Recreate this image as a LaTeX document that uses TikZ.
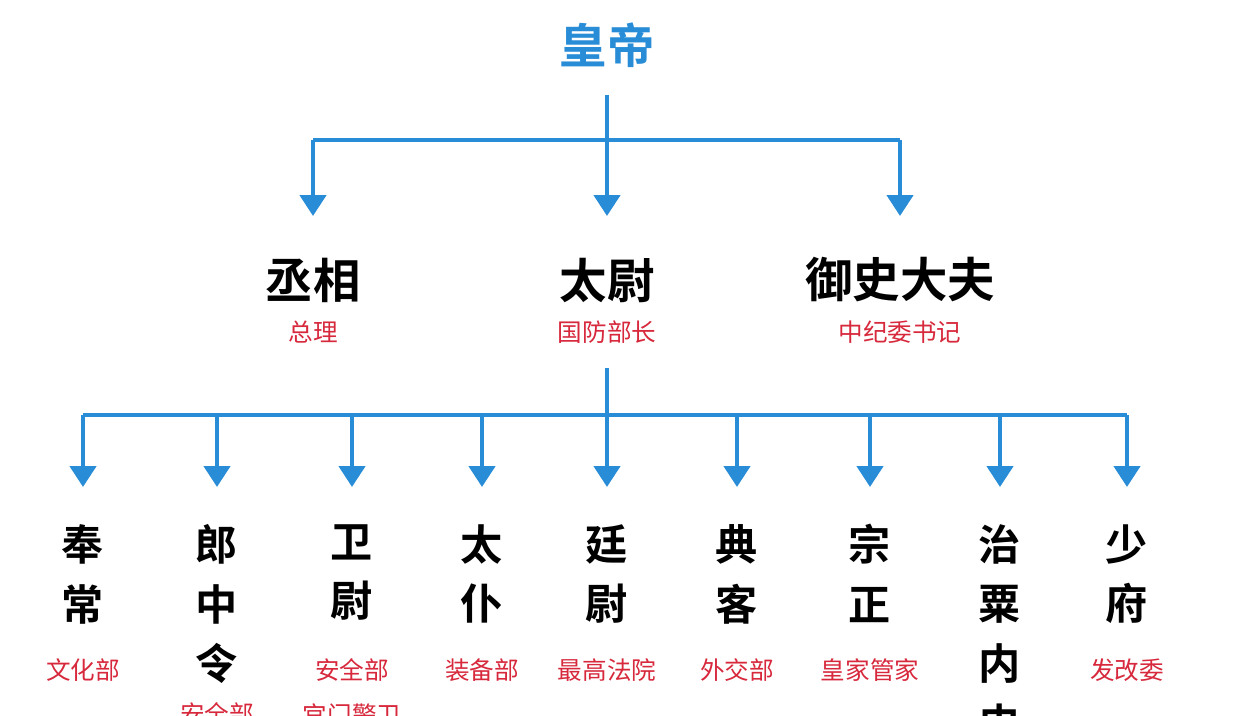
\documentclass[tikz,border=0pt]{standalone}
\usepackage{fontspec}
\newfontfamily\cjk{Noto Sans CJK SC}
\newfontfamily\cjkb{Noto Sans CJK SC Bold}
\usetikzlibrary{arrows.meta,positioning}
\definecolor{lineblue}{RGB}{40,140,215}
\definecolor{notered}{RGB}{215,40,60}
\tikzset{
  title/.style={font=\cjkb\fontsize{27}{30}\selectfont, text=black, inner sep=0pt},
  office/.style={font=\cjkb\fontsize{24}{34}\selectfont, text=black, align=center, inner sep=0pt},
  note/.style={font=\cjk\fontsize{14}{16}\selectfont, text=notered, inner sep=0pt},
  bar/.style={draw=lineblue, line width=2.6pt},
  arr/.style={bar, -{Triangle[width=0.52cm,length=0.42cm]}},
}
\begin{document}
\begin{tikzpicture}[x=0.02cm,y=-0.02cm]
\useasboundingbox (0,0) rectangle (1238,716);
\clip (0,0) rectangle (1238,716);
\fill[white] (0,0) rectangle (1238,716);

\node[title, text=lineblue] (emperor) at (607,45) {皇帝};

\coordinate (s1) at (607,95);
\coordinate (j1) at (607,140);
\coordinate (l1) at (313,140);
\coordinate (r1) at (900,140);
\node[title] (chengxiang) at (313,280) {丞相};
\node[title] (taiwei) at (607,280) {太尉};
\node[title] (yushi) at (900,280) {御史大夫};
\node[note] (n1) at (313,332) {总理};
\node[note] (n2) at (607,332) {国防部长};
\node[note] (n3) at (900,332) {中纪委书记};

\draw[bar] (s1) -- (j1);
\draw[bar] (l1) -- (r1);
\draw[arr] (l1) -- (313,216);
\draw[arr] (j1) -- (607,216);
\draw[arr] (r1) -- (900,216);

\coordinate (s2) at (607,368);
\coordinate (j2) at (607,415);
\coordinate (l2) at (83,415);
\coordinate (r2) at (1127,415);
\draw[bar] (s2) -- (j2);
\draw[bar] (l2) -- (r2);

% nine ministers
\foreach \x/\name/\txt in {83/fengchang/奉\\常, 217/langzhong/郎\\中\\令, 352/weiwei/卫\\尉,
    482/taipu/太\\仆, 607/tingwei/廷\\尉, 737/dianke/典\\客, 870/zongzheng/宗\\正,
    1000/zhisu/治\\粟\\内\\史, 1127/shaofu/少\\府} {
  \coordinate (t\name) at (\x,415);
  \draw[arr] (t\name) -- (\x,487);
  \node[office, anchor=north] (\name) at (\x,524) {\txt};
}

\node[note] (m1) at (83,670) {文化部};
\node[note] (m2) at (217,714) {安全部};
\node[note] (m3) at (352,670) {安全部};
\node[note, below=12pt of m3] (m3b) {宫门警卫};
\node[note] (m4) at (482,670) {装备部};
\node[note] (m5) at (607,670) {最高法院};
\node[note] (m6) at (737,670) {外交部};
\node[note] (m7) at (870,670) {皇家管家};
\node[note] (m9) at (1127,670) {发改委};
\end{tikzpicture}
\end{document}
